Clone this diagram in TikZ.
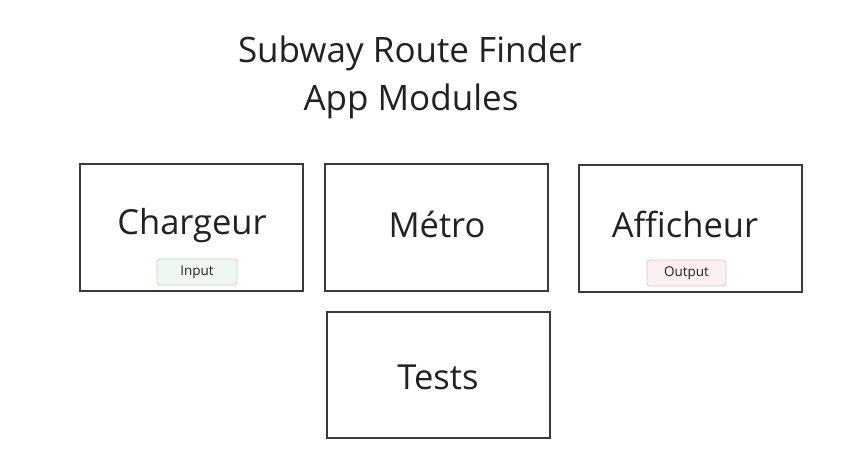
\documentclass[tikz,border=0pt]{standalone}
\usepackage{fontspec}
\setmainfont{Open Sans}
\definecolor{boxline}{HTML}{3A3A3A}
\definecolor{txt}{HTML}{222222}
\definecolor{ingreen}{HTML}{EEF8EE}
\definecolor{ingreenb}{HTML}{C8D8C8}
\definecolor{outpink}{HTML}{FCF0F0}
\definecolor{outpinkb}{HTML}{DCCACA}
\begin{document}
\begin{tikzpicture}[x=1pt,y=-1pt,
  module/.style={draw=boxline, line width=1.2pt, fill=white},
  modlabel/.style={text=txt, font=\fontsize{34.5}{40}\selectfont, inner sep=0pt},
  titlelabel/.style={text=txt, font=\fontsize{35}{44}\selectfont, inner sep=0pt},
  badge/.style={rounded corners=3pt, line width=0.8pt},
  badgelabel/.style={text=txt, font=\fontsize{13.5}{16}\selectfont, inner sep=0pt}]
\useasboundingbox[fill=white] (0,0) rectangle (861,475);
\node[titlelabel] (t1) at (410,53) {Subway Route Finder};
\node[titlelabel] (t2) at (411,101) {App Modules};
\draw[module] (80,164) rectangle (303,291);
\draw[module] (325,164) rectangle (548,291);
\draw[module] (579,165) rectangle (802,292);
\draw[module] (327,312) rectangle (550,438);
\node[modlabel] (charg) at (192,226) {Chargeur};
\node[modlabel] (metro) at (437,224) {Métro};
\node[modlabel] (affi) at (685,224) {Afficheur};
\node[modlabel] (tests) at (438,377) {Tests};
\draw[badge, fill=ingreen, draw=ingreenb] (157,259) rectangle (237,285);
\node[badgelabel] (inb) at (197,272) {Input};
\draw[badge, fill=outpink, draw=outpinkb] (647,260) rectangle (726,286);
\node[badgelabel] (outb) at (686.5,273) {Output};
\end{tikzpicture}
\end{document}
